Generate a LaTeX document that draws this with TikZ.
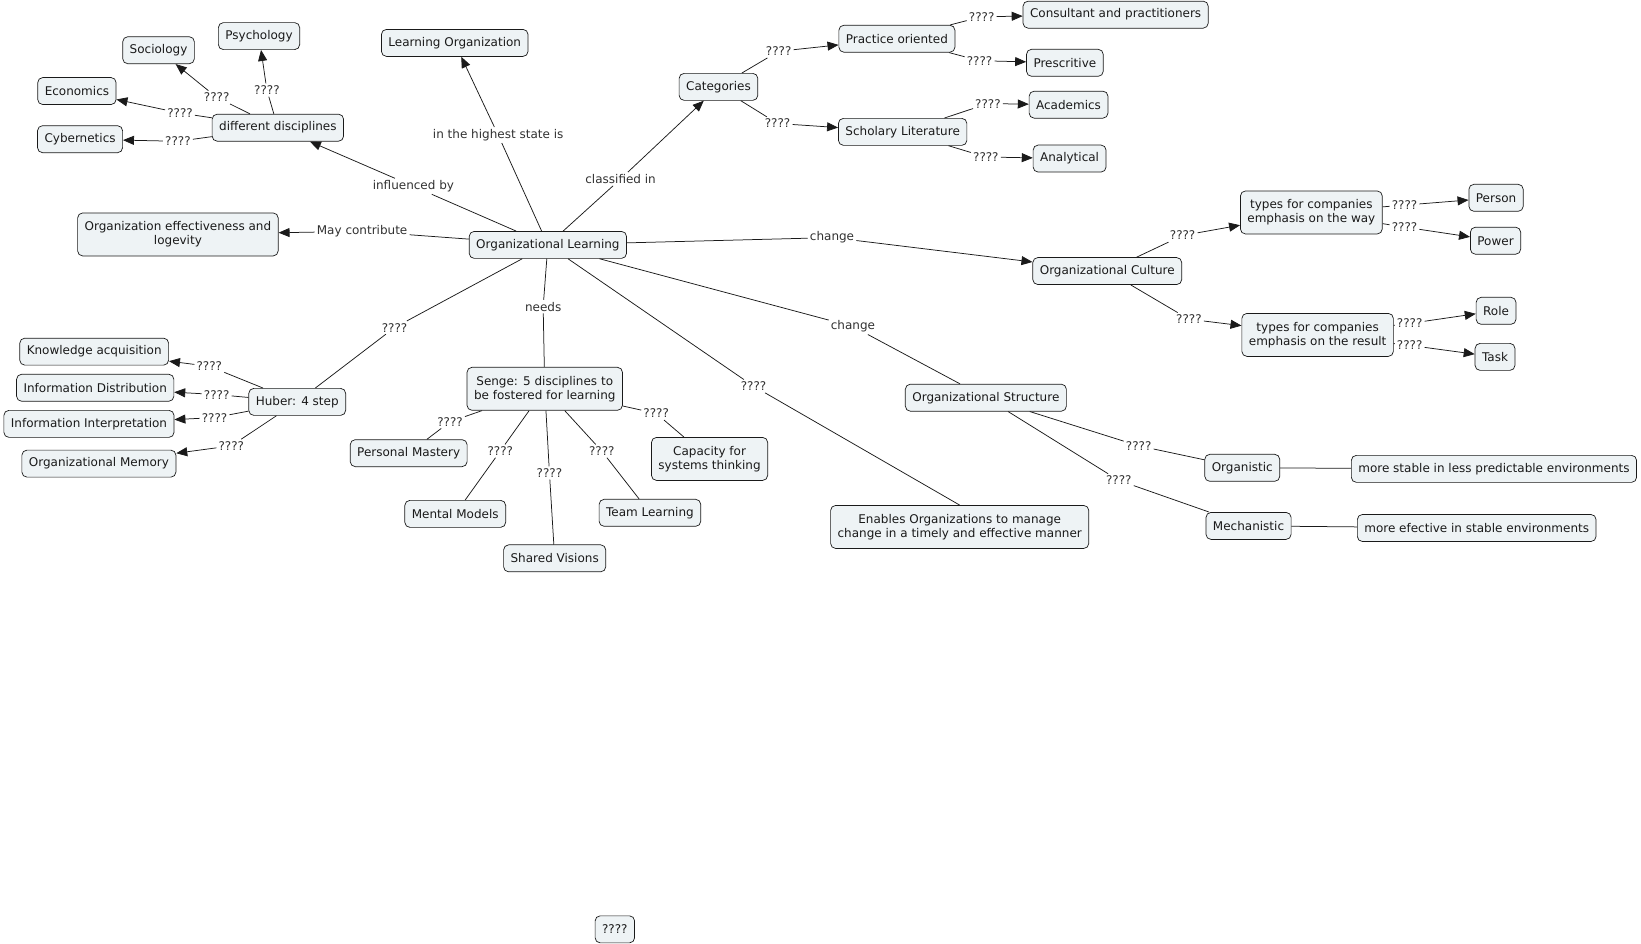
\documentclass[tikz,border=0pt]{standalone}
\usepackage{fontspec}
\setmainfont{DejaVu Sans}
\usepackage{xcolor}
\definecolor{CmapFill}{HTML}{EEF3F5}
\definecolor{CmapLine}{HTML}{1A1A1A}
\usepackage{tikz}
\usetikzlibrary{arrows.meta}
\newcommand{\cmapfont}{\fontsize{12}{14}\selectfont}

\begin{document}
\begin{tikzpicture}[
        x=1.0466pt, y=-1.0466pt,
        concept/.style={
            rectangle, rounded corners=5pt,
            draw=CmapLine, fill=CmapFill, line width=0.7pt,
            minimum height=27pt, inner xsep=7pt, inner ysep=0pt,
            align=center, font=\cmapfont, text=CmapLine
        },
        twoline/.style={concept, minimum height=43pt},
        linkword/.style={inner sep=2pt, font=\cmapfont, text=CmapLine!90},
        link/.style={draw=CmapLine, line width=0.75pt},
        arrow/.style={link, -{Triangle[length=11pt, width=9pt]}}
    ]
        \useasboundingbox (0,0) rectangle (1568,902);

        % concepts
        \node[concept] (ol) at (523.5,234) {Organizational Learning};
        \node[concept] (lorg) at (434.5,41) {Learning Organization};
        \node[concept] (disc) at (265.5,122) {different disciplines};
        \node[concept] (soc) at (151.5,48) {Sociology};
        \node[concept] (psy) at (247.5,34.5) {Psychology};
        \node[concept] (eco) at (73.5,87) {Economics};
        \node[concept] (cyb) at (76.5,133) {Cybernetics};
        \node[twoline] (eff) at (170,224) {Organization effectiveness and\\logevity};
        \node[concept] (cat) at (686.5,83) {Categories};
        \node[concept] (prac) at (857,37) {Practice oriented};
        \node[concept] (cons) at (1066,14) {Consultant and practitioners};
        \node[concept] (presc) at (1017.5,60) {Prescritive};
        \node[concept] (schol) at (862.5,126) {Scholary Literature};
        \node[concept] (acad) at (1021,100) {Academics};
        \node[concept] (anal) at (1022,151.5) {Analytical};
        \node[concept] (cult) at (1058,259) {Organizational Culture};
        \node[twoline] (tway) at (1253,203) {types for companies\\emphasis on the way};
        \node[concept] (pers) at (1429.5,189) {Person};
        \node[concept] (pow) at (1429,230) {Power};
        \node[twoline] (tres) at (1259,320) {types for companies\\emphasis on the result};
        \node[concept] (role) at (1429.5,297) {Role};
        \node[concept] (task) at (1428.5,341) {Task};
        \node[concept] (struc) at (942,380) {Organizational Structure};
        \node[concept] (orgn) at (1187,447) {Organistic};
        \node[concept] (stab) at (1427.5,448) {more stable in less predictable environments};
        \node[concept] (mech) at (1193,502.5) {Mechanistic};
        \node[concept] (efec) at (1411,504.5) {more efective in stable environments};
        \node[twoline] (enab) at (917,503.5) {Enables Organizations to manage\\change in a timely and effective manner};
        \node[concept] (huber) at (284,384) {Huber: 4 step};
        \node[concept] (know) at (90,336) {Knowledge acquisition};
        \node[concept] (dist) at (91,370.5) {Information Distribution};
        \node[concept] (interp) at (85,405) {Information Interpretation};
        \node[concept] (mem) at (94.5,443) {Organizational Memory};
        \node[twoline] (senge) at (520.5,371.5) {Senge: 5 disciplines to\\be fostered for learning};
        \node[concept] (pm) at (390.5,433) {Personal Mastery};
        \node[twoline] (cap) at (678,438.5) {Capacity for\\systems thinking};
        \node[concept] (mm) at (435,491) {Mental Models};
        \node[concept] (tl) at (621,490) {Team Learning};
        \node[concept] (sv) at (530,533.5) {Shared Visions};
        \node[concept] (lone) at (587.5,888) {????};

        % linking words
        \node[linkword] (lhigh) at (476,129) {in the highest state is};
        \node[linkword] (linfl) at (395,178) {influenced by};
        \node[linkword] (lclass) at (593,171) {classified in};
        \node[linkword] (lmay) at (346,221) {May contribute};
        \node[linkword] (lsoc) at (207,93) {????};
        \node[linkword] (lpsy) at (255,86) {????};
        \node[linkword] (leco) at (172,108) {????};
        \node[linkword] (lcyb) at (170,135) {????};
        \node[linkword] (lprac) at (744,49) {????};
        \node[linkword] (lschol) at (743,118) {????};
        \node[linkword] (lcons) at (938,16) {????};
        \node[linkword] (lpresc) at (936,58) {????};
        \node[linkword] (lacad) at (944,99) {????};
        \node[linkword] (lanal) at (942,150) {????};
        \node[linkword] (lchg) at (795,227) {change};
        \node[linkword] (ltway) at (1130,225) {????};
        \node[linkword] (lpers) at (1342,196) {????};
        \node[linkword] (lpow) at (1342,217) {????};
        \node[linkword] (ltres) at (1136,305) {????};
        \node[linkword] (lrole) at (1347,309) {????};
        \node[linkword] (ltask) at (1347,330) {????};
        \node[linkword] (lchs) at (815,312) {change};
        \node[linkword] (lorgn) at (1088,426) {????};
        \node[linkword] (lmech) at (1069,459) {????};
        \node[linkword] (lenab) at (720,369) {????};
        \node[linkword] (lneeds) at (519,293) {needs};
        \node[linkword] (lhub) at (377,313) {????};
        \node[linkword] (lknow) at (200,350) {????};
        \node[linkword] (ldist) at (207,377) {????};
        \node[linkword] (linterp) at (205,399) {????};
        \node[linkword] (lmem) at (221,426) {????};
        \node[linkword] (lpm) at (430,403) {????};
        \node[linkword] (lmm) at (478,431) {????};
        \node[linkword] (lsv) at (525,452) {????};
        \node[linkword] (ltl) at (575,431) {????};
        \node[linkword] (lcap) at (627,395) {????};

        % connectors
        \draw[link] (ol) -- (lhigh);
        \draw[arrow] (lhigh) -- (lorg);
        \draw[link] (ol) -- (linfl);
        \draw[arrow] (linfl) -- (disc);
        \draw[link] (ol) -- (lclass);
        \draw[arrow] (lclass) -- (cat);
        \draw[link] (ol) -- (lmay);
        \draw[arrow] (lmay) -- (eff);

        \draw[link] (disc) -- (lsoc);
        \draw[arrow] (lsoc) -- (soc);
        \draw[link] (disc) -- (lpsy);
        \draw[arrow] (lpsy) -- (psy);
        \draw[link] (disc) -- (leco);
        \draw[arrow] (leco) -- (eco);
        \draw[link] (disc) -- (lcyb);
        \draw[arrow] (lcyb) -- (cyb);

        \draw[link] (cat) -- (lprac);
        \draw[arrow] (lprac) -- (prac);
        \draw[link] (cat) -- (lschol);
        \draw[arrow] (lschol) -- (schol);
        \draw[link] (prac) -- (lcons);
        \draw[arrow] (lcons) -- (cons);
        \draw[link] (prac) -- (lpresc);
        \draw[arrow] (lpresc) -- (presc);
        \draw[link] (schol) -- (lacad);
        \draw[arrow] (lacad) -- (acad);
        \draw[link] (schol) -- (lanal);
        \draw[arrow] (lanal) -- (anal);

        \draw[link] (ol) -- (lchg);
        \draw[arrow] (lchg) -- (cult);
        \draw[link] (cult) -- (ltway);
        \draw[arrow] (ltway) -- (tway);
        \draw[link] (tway) -- (lpers);
        \draw[arrow] (lpers) -- (pers);
        \draw[link] (tway) -- (lpow);
        \draw[arrow] (lpow) -- (pow);
        \draw[link] (cult) -- (ltres);
        \draw[arrow] (ltres) -- (tres);
        \draw[link] (tres) -- (lrole);
        \draw[arrow] (lrole) -- (role);
        \draw[link] (tres) -- (ltask);
        \draw[arrow] (ltask) -- (task);

        \draw[link] (ol) -- (lchs);
        \draw[link] (lchs) -- (struc);
        \draw[link] (struc) -- (lorgn);
        \draw[link] (lorgn) -- (orgn);
        \draw[link] (struc) -- (lmech);
        \draw[link] (lmech) -- (mech);
        \draw[link] (orgn) -- (stab);
        \draw[link] (mech) -- (efec);

        \draw[link] (ol) -- (lenab);
        \draw[link] (lenab) -- (enab.north);

        \draw[link] (ol) -- (lhub);
        \draw[link] (lhub) -- (huber);
        \draw[link] (huber) -- (lknow);
        \draw[arrow] (lknow) -- (know);
        \draw[link] (huber) -- (ldist);
        \draw[arrow] (ldist) -- (dist);
        \draw[link] (huber) -- (linterp);
        \draw[arrow] (linterp) -- (interp);
        \draw[link] (huber) -- (lmem);
        \draw[arrow] (lmem) -- (mem);

        \draw[link] (ol) -- (lneeds);
        \draw[link] (lneeds) -- (senge);
        \draw[link] (senge) -- (lpm);
        \draw[link] (lpm) -- (pm);
        \draw[link] (senge) -- (lmm);
        \draw[link] (lmm) -- (mm);
        \draw[link] (senge) -- (lsv);
        \draw[link] (lsv) -- (sv);
        \draw[link] (senge) -- (ltl);
        \draw[link] (ltl) -- (tl);
        \draw[link] (senge) -- (lcap);
        \draw[link] (lcap) -- (cap);
    \end{tikzpicture}
\end{document}
